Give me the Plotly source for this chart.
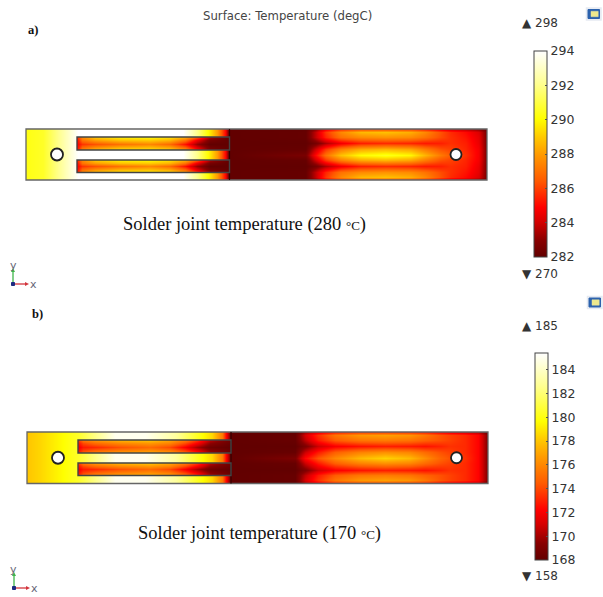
import plotly.graph_objects as go

W, H = 603, 597

# ---------- colour map ----------
heat = [[0, "#620000"], [0.08, "#880000"], [0.17, "#d40000"], [0.24, "#ff0000"], [0.37, "#ff5a00"],
        [0.5, "#ff9c00"], [0.58, "#ffc800"], [0.67, "#ffff00"], [0.84, "#ffff90"], [1, "#ffffff"]]

# ---------- plate a (degC) ----------
a_ticks = [282, 284, 286, 288, 290, 292, 294]
a_range = [282, 294]
a_body_x = [26, 43, 63, 78, 183, 197, 208, 217, 225, 229]
a_body_t = [290.3, 290.6, 292.5, 294, 294, 292, 290, 288, 285, 282]
a_slot_x = [77, 82, 95, 120, 150, 170, 185, 197, 210, 229]
a_slot_edge = [285.5, 287.5, 289, 289.8, 290, 289.5, 288.5, 286.5, 283.5, 282]
a_slot_near = [285, 287, 288, 288.8, 289, 288.5, 287, 284.5, 282.5, 282]
a_slot_mid = [284.8, 285.8, 286.3, 287, 287.5, 286.8, 285.2, 283.2, 282, 282]
a_right_x = [230, 305, 315, 325, 340, 360, 385, 410, 425, 440, 450, 465, 478, 487]
a_r0 = [282, 282, 283, 284.5, 285.5, 286, 286, 285.8, 285.2, 284.5, 284, 283.5, 283, 282.3]
a_r1 = [282, 282.1, 283.8, 285.8, 287.5, 288.6, 288.8, 288.4, 287.5, 286.3, 285.6, 285, 284.2, 282.5]
a_r2 = [282, 282.1, 283.8, 285.5, 287, 287.6, 287.8, 287.6, 287, 286.2, 285.7, 285.2, 284.4, 282.5]
a_r3 = [282, 282, 282.5, 283.5, 284.6, 285.4, 285.6, 285.5, 285.3, 285.4, 285.7, 285.4, 284.5, 282.5]
a_r4 = [282, 282.1, 284, 285.8, 287.3, 288.3, 288.6, 288.2, 287.2, 286.3, 286, 285.5, 284.7, 282.5]
a_r5 = [282, 282.6, 285, 287, 288.8, 290, 290.4, 289.9, 288.5, 287.2, 286.5, 285.7, 284.7, 282.5]

# ---------- plate b (degC) ----------
b_ticks = [168, 170, 172, 174, 176, 178, 180, 182, 184]
b_range = [168, 185.4]
b_body_x = [27, 40, 60, 78, 100, 115, 145, 175, 200, 212, 222, 231]
b_body_t = [178, 178.5, 179.5, 180.5, 183, 185, 185, 183, 180, 178.5, 175.5, 168]
b_slot_x = [78, 83, 95, 120, 150, 170, 185, 197, 210, 231]
b_slot_edge = [173.5, 175.5, 176.5, 177.5, 178, 177, 175.5, 173.5, 170.5, 168.5]
b_slot_near = [172.5, 174, 175, 176, 176.5, 175.8, 174, 172, 169.5, 168.2]
b_slot_mid = [171.8, 172.8, 173.2, 174.2, 175, 174, 172, 170, 168.5, 168]
b_right_x = [231, 295, 305, 318, 335, 360, 385, 410, 425, 440, 450, 465, 478, 488]
b_r0 = [168, 168, 170, 171.5, 172.8, 173.5, 173.5, 173.2, 172.8, 172, 171.5, 171, 170.3, 168.5]
b_r1 = [168, 168.2, 171, 173.3, 175.3, 176.5, 176.8, 176.4, 175.4, 174.3, 173.8, 173.2, 172.2, 169]
b_r2 = [168, 168.2, 170.5, 172.8, 174.5, 175.4, 175.6, 175.3, 174.7, 174.2, 173.8, 173.2, 172.2, 169]
b_r3 = [168, 168, 169, 170.8, 172, 172.6, 172.9, 172.8, 172.6, 173, 173.4, 173.2, 172.2, 169]
b_r4 = [168, 168.2, 170.8, 172.8, 174.6, 175.8, 176.3, 175.9, 175, 174.2, 173.8, 173.2, 172.2, 169]
b_r5 = [168, 169, 172.3, 174.3, 176, 177.6, 178.4, 177.6, 176.2, 174.8, 174.2, 173.4, 172.2, 169]

# text
title = "Surface: Temperature (degC)"
caption_a = "Solder joint temperature (280 <span style='font-size:13px'>°C</span>)"
caption_b = "Solder joint temperature (170 <span style='font-size:13px'>°C</span>)"

fig = go.Figure()
layout = {}
n = [0]


def part(x, y, z, box, rng, bar=None):
    n[0] += 1
    s = "" if n[0] == 1 else str(n[0])
    x0, y0, x1, y1 = box
    layout["xaxis" + s] = dict(domain=[x0 / W, x1 / W], range=[x0, x1], visible=False,
                               anchor="y" + s, fixedrange=True)
    layout["yaxis" + s] = dict(domain=[1 - y1 / H, 1 - y0 / H], range=[y1, y0], visible=False,
                               anchor="x" + s, fixedrange=True)
    tr = dict(x=x, y=y, z=z, zsmooth="best", colorscale=heat, zmin=rng[0], zmax=rng[1],
              xaxis="x" + s, yaxis="y" + s, showscale=False, hoverinfo="skip")
    if bar:
        tr["showscale"] = True
        tr["colorbar"] = bar
    fig.add_trace(go.Heatmap(**tr))


def cbar(x0, y0, y1, ticks):
    return dict(x=x0 / W, xanchor="left", y=1 - y1 / H, yanchor="bottom",
                len=(y1 - y0) / H, lenmode="fraction", thickness=13, thicknessmode="pixels",
                xpad=0, ypad=0, outlinecolor="#444", outlinewidth=1, tickmode="array",
                tickvals=ticks, ticks="inside", ticklen=2, tickcolor="#555", tickprefix="\u00a0",
                tickfont=dict(family="DejaVu Sans", size=12.5, color="#333"), ticklabelposition="outside")


shapes = []
annots = []


def rect(x0, y0, x1, y1, color="#555", width=1.2, fill=None):
    shapes.append(dict(type="rect", xref="paper", yref="paper", x0=x0 / W, x1=x1 / W,
                       y0=1 - y0 / H, y1=1 - y1 / H, line=dict(color=color, width=width),
                       fillcolor=fill or "rgba(0,0,0,0)"))


def circle(cx, cy, r):
    shapes.append(dict(type="circle", xref="paper", yref="paper", x0=(cx - r) / W, x1=(cx + r) / W,
                       y0=1 - (cy - r) / H, y1=1 - (cy + r) / H,
                       line=dict(color="#222", width=1.8), fillcolor="white"))


def seg(x0, y0, x1, y1, color, width=1.3):
    shapes.append(dict(type="line", xref="paper", yref="paper", x0=x0 / W, x1=x1 / W,
                       y0=1 - y0 / H, y1=1 - y1 / H, line=dict(color=color, width=width)))


def text(x, y, s, size, family, color="#222", anchor="center"):
    annots.append(dict(xref="paper", yref="paper", x=x / W, y=1 - y / H, text=s, showarrow=False,
                       xanchor=anchor, yanchor="middle", align="center",
                       font=dict(size=size, family=family, color=color)))


def triad(cx, cy):
    seg(cx, cy, cx, cy - 13, "#3fb54a")
    seg(cx, cy, cx + 13, cy, "#d2343c")
    shapes.append(dict(type="path", xref="paper", yref="paper", fillcolor="#3fb54a", line=dict(width=0),
                       path=f"M {(cx-2)/W} {1-(cy-12)/H} L {(cx+2)/W} {1-(cy-12)/H} L {cx/W} {1-(cy-16)/H} Z"))
    shapes.append(dict(type="path", xref="paper", yref="paper", fillcolor="#d2343c", line=dict(width=0),
                       path=f"M {(cx+12)/W} {1-(cy-2)/H} L {(cx+12)/W} {1-(cy+2)/H} L {(cx+16)/W} {1-cy/H} Z"))
    rect(cx - 1.5, cy - 1.5, cx + 1.5, cy + 1.5, "#1c2a80", 1, "#1c2a80")
    text(cx, cy - 19, "y", 11, "DejaVu Sans", "#667")
    text(cx + 20, cy, "x", 11, "DejaVu Sans", "#667")


def icon(x, y):
    rect(x - 1.5, y - 1.5, x + 13, y + 10.5, "#e6eaf2", 1.5, "#eef1f7")
    rect(x, y, x + 11.5, y + 9, "#2c62ad", 1, "#2c62ad")
    rect(x + 3, y + 1.8, x + 10.2, y + 7.2, "#e9e6a0", 0.5, "#eee98c")


def plate(left, top, right, bottom, split, slot_l, slots, hole_l, hole_r, rng, body_x, body_t,
          slot_x, rows, right_x, right_rows, bar):
    mid = (top + bottom) / 2
    part(body_x, [top, bottom], [body_t, body_t], (left, top, split, bottom), rng)
    for sy0, sy1 in slots:
        sm = (sy0 + sy1) / 2
        part(slot_x, [sy0, sy0 + 2.5, sm, sy1 - 2.5, sy1],
             [rows[0], rows[1], rows[2], rows[1], rows[0]], (slot_l, sy0, split, sy1), rng)
    h = bottom - top
    ys = [top, top + 0.06 * h, top + 0.16 * h, top + 0.27 * h, top + 0.39 * h, mid,
          bottom - 0.39 * h, bottom - 0.27 * h, bottom - 0.16 * h, bottom - 0.06 * h, bottom]
    order = [0, 1, 2, 3, 4, 5, 4, 3, 2, 1, 0]
    part(right_x, ys, [right_rows[i] for i in order], (split, top, right, bottom), rng, bar)
    rect(left, top, right, bottom, "#666", 1.3)
    seg(split, top, split, bottom, "#300", 1.2)
    for sy0, sy1 in slots:
        rect(slot_l, sy0, split, sy1, "#444", 1.4)
    circle(hole_l, mid + 0.0, 6)
    circle(hole_r, mid + 0.0, 5.5)


plate(26, 129, 487, 180, 229.5, 77, [(137, 150), (160, 172.5)], 57, 456, a_range, a_body_x, a_body_t,
      a_slot_x, [a_slot_edge, a_slot_near, a_slot_mid], a_right_x, [a_r0, a_r1, a_r2, a_r3, a_r4, a_r5],
      cbar(534, 51, 257, a_ticks))
plate(27, 432, 488, 483.5, 231, 78, [(440, 453), (463, 475.5)], 58, 456.5, b_range, b_body_x, b_body_t,
      b_slot_x, [b_slot_edge, b_slot_near, b_slot_mid], b_right_x, [b_r0, b_r1, b_r2, b_r3, b_r4, b_r5],
      cbar(535, 353, 560, b_ticks))

text(287, 16, title, 11.7, "DejaVu Sans", "#444")
text(33, 30, "<b>a)</b>", 12.5, "Liberation Serif", "#111")
text(37, 314, "<b>b)</b>", 12.5, "Liberation Serif", "#111")
text(244.5, 225, caption_a, 18.5, "Liberation Serif", "#111")
text(259, 533, caption_b, 18.5, "Liberation Serif", "#111")
text(540, 23, "▲ 298", 12, "DejaVu Sans", "#333")
text(540, 274, "▼ 270", 12, "DejaVu Sans", "#333")
text(540, 326, "▲ 185", 12, "DejaVu Sans", "#333")
text(540, 576, "▼ 158", 12, "DejaVu Sans", "#333")
triad(13, 284)
triad(14, 588)
icon(588, 9.5)
icon(589, 298)

fig.update_layout(width=W, height=H, margin=dict(l=0, r=0, t=0, b=0), paper_bgcolor="white",
                  plot_bgcolor="white", showlegend=False, shapes=shapes, annotations=annots, **layout)
fig.write_html("out.html", config=dict(displayModeBar=False),
               post_script="document.body.style.margin='0';document.body.style.overflow='hidden';")
